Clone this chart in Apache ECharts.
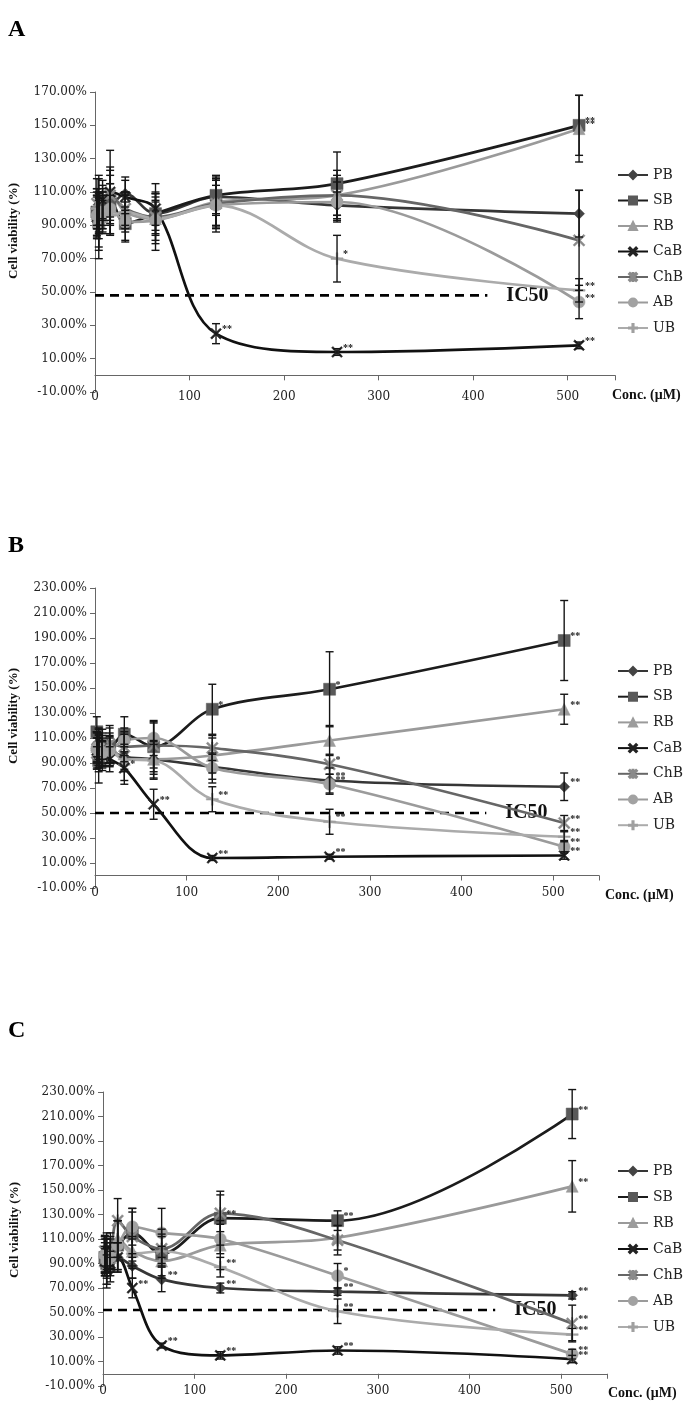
<!DOCTYPE html>
<html><head><meta charset="utf-8">
<script src="https://cdn.jsdelivr.net/npm/echarts@6/dist/echarts.min.js"></script>
<style>html,body{margin:0;padding:0;background:#fff}#c{width:688px;height:1417px}</style>
</head><body><div id="c"></div>
<script>
// ---------- DATA ----------
const conc = [2, 4, 8, 16, 32, 64, 128, 256, 512];
const seriesNames = ['PB', 'SB', 'RB', 'CaB', 'ChB', 'AB', 'UB'];

// Panel A
const A_PB  = [100, 96, 104, 103, 109, 97, 107, 102, 97];
const A_SB  = [98, 92, 100, 105, 91, 97, 108, 115, 150];
const A_RB  = [97, 100, 95, 110, 98, 94, 104, 108, 148];
const A_CaB = [95, 100, 105, 110, 107, 100, 25, 14, 18];
const A_ChB = [103, 95, 98, 108, 100, 95, 103, 108, 81];
const A_AB  = [96, 90, 98, 100, 92, 93, 102, 104, 44];
const A_UB  = [100, 97, 100, 96, 98, 94, 102, 70, 51];
const A_PB_err  = [12, 10, 10, 12, 10, 10, 10, 8, 14];
const A_SB_err  = [10, 15, 12, 15, 10, 12, 12, 19, 18];
const A_RB_err  = [15, 18, 10, 25, 12, 15, 15, 15, 20];
const A_CaB_err = [12, 10, 12, 15, 10, 10, 6, 2, 2];
const A_ChB_err = [15, 25, 12, 15, 10, 20, 15, 12, 30];
const A_AB_err  = [12, 15, 10, 15, 12, 12, 16, 12, 10];
const A_UB_err  = [10, 12, 10, 12, 10, 10, 12, 14, 7];
const A_PB_sig  = ['', '', '', '', '', '', '', '', ''];
const A_SB_sig  = ['', '', '', '', '', '', '', '', '**'];
const A_RB_sig  = ['', '', '', '', '', '', '', '', '**'];
const A_CaB_sig = ['', '', '', '', '', '', '**', '**', '**'];
const A_ChB_sig = ['', '', '', '', '', '', '', '', ''];
const A_AB_sig  = ['', '', '', '', '', '', '', '', '**'];
const A_UB_sig  = ['', '', '', '', '', '', '', '*', '**'];
const A_ic50 = [48, 415];

// Panel B
const B_PB  = [105, 100, 97, 99, 95, 93, 87, 76, 71];
const B_SB  = [115, 92, 105, 103, 113, 103, 133, 149, 188];
const B_RB  = [103, 98, 100, 102, 93, 93, 96, 108, 133];
const B_CaB = [100, 98, 96, 93, 86, 57, 14, 15, 16];
const B_ChB = [98, 103, 100, 105, 103, 104, 102, 89, 42];
const B_AB  = [102, 100, 98, 100, 108, 110, 86, 73, 23];
const B_UB  = [100, 105, 102, 100, 93, 92, 61, 43, 31];
const B_PB_err  = [10, 12, 10, 12, 10, 12, 10, 10, 11];
const B_SB_err  = [12, 18, 12, 15, 14, 20, 20, 30, 32];
const B_RB_err  = [12, 15, 12, 12, 20, 15, 14, 12, 12];
const B_CaB_err = [15, 12, 12, 10, 10, 12, 2, 2, 3];
const B_ChB_err = [12, 15, 12, 15, 12, 18, 10, 8, 6];
const B_AB_err  = [12, 14, 12, 12, 10, 14, 12, 8, 5];
const B_UB_err  = [10, 12, 12, 10, 10, 15, 10, 10, 4];
const B_PB_sig  = ['', '', '', '', '', '', '', '**', '**'];
const B_SB_sig  = ['', '', '', '', '', '', '*', '*', '**'];
const B_RB_sig  = ['', '', '', '', '', '', '', '', '**'];
const B_CaB_sig = ['', '', '', '', '*', '**', '**', '**', '**'];
const B_ChB_sig = ['', '', '', '', '', '', '', '*', '**'];
const B_AB_sig  = ['', '', '', '', '', '', '', '**', '**'];
const B_UB_sig  = ['', '', '', '', '', '', '**', '**', '**'];
const B_ic50 = [50, 427];

// Panel C
const C_PB  = [98, 90, 85, 95, 88, 77, 70, 67, 64];
const C_SB  = [95, 90, 100, 105, 115, 98, 127, 125, 212];
const C_RB  = [92, 88, 95, 110, 100, 92, 105, 111, 153];
const C_CaB = [92, 85, 90, 95, 70, 23, 15, 19, 12];
const C_ChB = [100, 95, 100, 125, 112, 102, 131, 109, 41];
const C_AB  = [97, 92, 95, 105, 120, 115, 110, 80, 16];
const C_UB  = [95, 100, 98, 110, 98, 100, 87, 51, 32];
const C_PB_err  = [15, 12, 10, 12, 10, 10, 4, 3, 3];
const C_SB_err  = [15, 20, 15, 20, 20, 20, 22, 8, 20];
const C_RB_err  = [12, 15, 12, 15, 12, 12, 20, 10, 21];
const C_CaB_err = [10, 12, 10, 12, 8, 2, 3, 3, 3];
const C_ChB_err = [12, 15, 12, 18, 20, 12, 15, 12, 15];
const C_AB_err  = [15, 12, 12, 20, 15, 20, 12, 10, 4];
const C_UB_err  = [12, 15, 12, 15, 12, 12, 8, 10, 5];
const C_PB_sig  = ['', '', '', '', '', '**', '**', '**', '**'];
const C_SB_sig  = ['', '', '', '', '', '', '**', '**', '**'];
const C_RB_sig  = ['', '', '', '', '', '', '', '', '**'];
const C_CaB_sig = ['', '', '', '', '**', '**', '**', '**', '**'];
const C_ChB_sig = ['', '', '', '', '', '', '', '', '**'];
const C_AB_sig  = ['', '', '', '', '', '', '', '*', '**'];
const C_UB_sig  = ['', '', '', '', '', '', '**', '**', '**'];
const C_ic50 = [52, 428];

// ---------- STYLE / LAYOUT ----------
const X_PATH = 'path://M0,1.2L1.2,0L5,3.8L8.8,0L10,1.2L6.2,5L10,8.8L8.8,10L5,6.2L1.2,10L0,8.8L3.8,5Z';
const AST_PATH = 'path://M0,1.2L1.2,0L5,3.8L8.8,0L10,1.2L6.2,5L10,8.8L8.8,10L5,6.2L1.2,10L0,8.8L3.8,5Z M4.4,0H5.6V10H4.4Z';
const PLUS_PATH = 'path://M4.3,0H5.7V4.3H10V5.7H5.7V10H4.3V5.7H0V4.3H4.3Z';
const sty = {
  PB:  {sym: 'diamond',  size: 11, line: '#363636', mark: '#444444'},
  SB:  {sym: 'rect',     size: 12, line: '#1c1c1c', mark: '#595959'},
  RB:  {sym: 'triangle', size: 12, line: '#9a9a9a', mark: '#9c9c9c'},
  CaB: {sym: X_PATH,     size: 11, line: '#111111', mark: '#222222'},
  ChB: {sym: AST_PATH,   size: 12, line: '#666666', mark: '#8a8a8a'},
  AB:  {sym: 'circle',   size: 12, line: '#9b9b9b', mark: '#a2a2a2'},
  UB:  {sym: PLUS_PATH,  size: 12, line: '#ababab', mark: '#a0a0a0'}
};
const SERIF = 'DejaVu Serif';
const TIMES = 'Liberation Serif';

const panels = [
  {letter: 'A', letterTop: 18, grid: {left: 95, top: 92, width: 520, height: 300}, yMax: 170,
   vals: {PB: A_PB, SB: A_SB, RB: A_RB, CaB: A_CaB, ChB: A_ChB, AB: A_AB, UB: A_UB},
   errs: {PB: A_PB_err, SB: A_SB_err, RB: A_RB_err, CaB: A_CaB_err, ChB: A_ChB_err, AB: A_AB_err, UB: A_UB_err},
   sigs: {PB: A_PB_sig, SB: A_SB_sig, RB: A_RB_sig, CaB: A_CaB_sig, ChB: A_ChB_sig, AB: A_AB_sig, UB: A_UB_sig},
   ic50: A_ic50, legendTop: 163, legendGap: 11.5, ytitle: [14, 231], conc: [612, 395]},
  {letter: 'B', letterTop: 534, grid: {left: 95, top: 588, width: 504, height: 300}, yMax: 230,
   vals: {PB: B_PB, SB: B_SB, RB: B_RB, CaB: B_CaB, ChB: B_ChB, AB: B_AB, UB: B_UB},
   errs: {PB: B_PB_err, SB: B_SB_err, RB: B_RB_err, CaB: B_CaB_err, ChB: B_ChB_err, AB: B_AB_err, UB: B_UB_err},
   sigs: {PB: B_PB_sig, SB: B_SB_sig, RB: B_RB_sig, CaB: B_CaB_sig, ChB: B_ChB_sig, AB: B_AB_sig, UB: B_UB_sig},
   ic50: B_ic50, legendTop: 659, legendGap: 11.7, ytitle: [14, 716], conc: [605, 895]},
  {letter: 'C', letterTop: 1019, grid: {left: 103, top: 1092, width: 504, height: 294}, yMax: 230,
   vals: {PB: C_PB, SB: C_SB, RB: C_RB, CaB: C_CaB, ChB: C_ChB, AB: C_AB, UB: C_UB},
   errs: {PB: C_PB_err, SB: C_SB_err, RB: C_RB_err, CaB: C_CaB_err, ChB: C_ChB_err, AB: C_AB_err, UB: C_UB_err},
   sigs: {PB: C_PB_sig, SB: C_SB_sig, RB: C_RB_sig, CaB: C_CaB_sig, ChB: C_ChB_sig, AB: C_AB_sig, UB: C_UB_sig},
   ic50: C_ic50, legendTop: 1159, legendGap: 12, ytitle: [15, 1230], conc: [608, 1393]}
];

const grids = [], xAxes = [], yAxes = [], series = [], legends = [], graphics = [];
const axisLabelStyle = {fontFamily: SERIF, fontSize: 12, color: '#222'};

panels.forEach((p, i) => {
  grids.push(Object.assign({containLabel: false}, p.grid));
  // main x axis sitting on y = 0 (line + ticks)
  xAxes.push({type: 'value', gridIndex: i, min: 0, max: 550, interval: 100,
    axisLine: {show: true, onZero: true, lineStyle: {color: '#666', width: 1}},
    axisTick: {show: true, length: 5, lineStyle: {color: '#666'}},
    axisLabel: {show: false}, splitLine: {show: false}});
  // label x axis at the bottom
  xAxes.push({type: 'value', gridIndex: i, min: 0, max: 550, interval: 100, position: 'bottom',
    axisLine: {show: false, onZero: false}, axisTick: {show: false}, splitLine: {show: false},
    axisLabel: Object.assign({show: true, margin: 5, verticalAlign: 'middle', showMaxLabel: false}, axisLabelStyle)});
  yAxes.push({type: 'value', gridIndex: i, min: -10, max: p.yMax, interval: 20,
    axisLine: {show: true, lineStyle: {color: '#666', width: 1}},
    axisTick: {show: true, length: 5, lineStyle: {color: '#666'}},
    splitLine: {show: false},
    axisLabel: Object.assign({margin: 8, formatter: v => v.toFixed(2) + '%'}, axisLabelStyle)});

  const errItems = [];
  seriesNames.forEach(n => {
    const s = sty[n];
    const data = conc.map((c, k) => [c, p.vals[n][k]]);
    series.push({
      name: n, type: 'line', xAxisIndex: 2 * i, yAxisIndex: i, data: data,
      smooth: 0.35, symbol: s.sym, symbolSize: s.size, z: 2,
      lineStyle: {color: s.line, width: 2.7},
      itemStyle: {color: s.mark, borderColor: s.mark, borderWidth: 0.5},
      emphasis: {disabled: true}
    });
    conc.forEach((c, k) => errItems.push({value: [c, p.vals[n][k], p.errs[n][k]], sig: p.sigs[n][k]}));
  });

  // error bars + significance marks
  series.push({
    type: 'custom', name: 'err' + p.letter, xAxisIndex: 2 * i, yAxisIndex: i, z: 5, silent: true,
    data: errItems.map(d => d.value),
    renderItem: (params, api) => {
      const x = api.value(0), y = api.value(1), e = api.value(2);
      const t = api.coord([x, y + e]), b = api.coord([x, y - e]), c = api.coord([x, y]);
      const st = {stroke: '#151515', lineWidth: 1.4};
      const ch = [
        {type: 'line', shape: {x1: t[0], y1: t[1], x2: b[0], y2: b[1]}, style: st},
        {type: 'line', shape: {x1: t[0] - 4, y1: t[1], x2: t[0] + 4, y2: t[1]}, style: st},
        {type: 'line', shape: {x1: b[0] - 4, y1: b[1], x2: b[0] + 4, y2: b[1]}, style: st}
      ];
      const sg = errItems[params.dataIndex].sig;
      if (sg) ch.push({type: 'text', style: {text: sg, x: c[0] + 6, y: c[1] - 4, fill: '#222',
        font: 'bold 10px ' + TIMES, textAlign: 'left', textVerticalAlign: 'middle'}});
      return {type: 'group', children: ch};
    }
  });

  // IC50 dashed line
  series.push({
    name: 'IC50' + p.letter, type: 'line', xAxisIndex: 2 * i, yAxisIndex: i, z: 1,
    data: [[0, p.ic50[0]], [p.ic50[1], p.ic50[0]]], symbol: 'none', silent: true,
    lineStyle: {color: '#000', width: 2.6, type: [9, 6]},
    endLabel: {show: true, formatter: 'IC50', distance: 19, fontFamily: TIMES, fontWeight: 'bold', fontSize: 20, color: '#111'}
  });

  legends.push({
    data: seriesNames, orient: 'vertical', left: 612, top: p.legendTop,
    itemWidth: 30, itemHeight: 10, itemGap: p.legendGap, selectedMode: false,
    textStyle: {fontFamily: SERIF, fontSize: 14, color: '#222'}
  });

  graphics.push({type: 'text', left: 8, top: p.letterTop,
    style: {text: p.letter, font: 'bold 24px ' + TIMES, fill: '#000'}});
  graphics.push({type: 'text', x: p.ytitle[0], y: p.ytitle[1], rotation: Math.PI / 2,
    style: {text: 'Cell viability (%)', font: 'bold 13px ' + TIMES, fill: '#111', textAlign: 'center', textVerticalAlign: 'middle'}});
  graphics.push({type: 'text', x: p.conc[0], y: p.conc[1],
    style: {text: 'Conc. (\u03bcM)', font: 'bold 14px ' + TIMES, fill: '#111', textAlign: 'left', textVerticalAlign: 'middle'}});
});

const chart = echarts.init(document.getElementById('c'), null, {renderer: 'canvas'});
chart.setOption({
  backgroundColor: '#fff', animation: false,
  grid: grids, xAxis: xAxes, yAxis: yAxes, series: series, legend: legends, graphic: graphics
});
</script></body></html>
